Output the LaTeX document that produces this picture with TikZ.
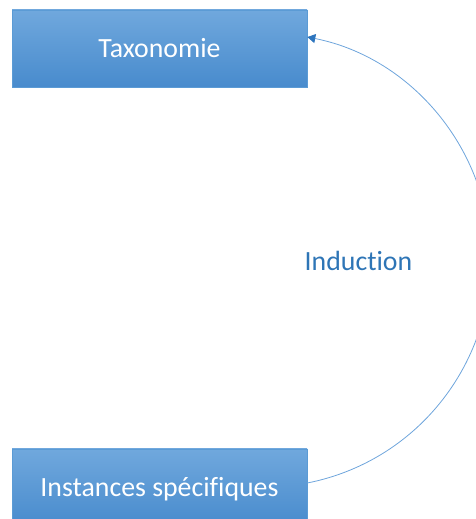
\documentclass[tikz,border=0pt]{standalone}
\usepackage{fontspec}
\setmainfont{Carlito}[Ligatures={NoCommon,NoContextual}]
\usetikzlibrary{arrows.meta,calc}
\definecolor{boxtop}{RGB}{112,168,221}
\definecolor{boxbot}{RGB}{72,139,205}
\definecolor{boxline}{RGB}{91,155,213}
\definecolor{linkblue}{RGB}{110,165,220}
\definecolor{tipblue}{RGB}{46,117,190}
\definecolor{labblue}{RGB}{46,117,182}
\begin{document}
\begin{tikzpicture}[x=1pt,y=1pt,
  boxnode/.style={rectangle, draw=boxline, line width=0.6pt,
    top color=boxtop, bottom color=boxbot,
    minimum width=295pt, minimum height=77pt, inner sep=0pt,
    text=white, font=\fontsize{27.8}{33}\selectfont,
    text height=17.9pt, text depth=0pt},
  link/.style={draw=linkblue, line width=0.8pt,
    -{Triangle[length=8pt,width=9pt,fill=tipblue,color=tipblue]}},
  lab/.style={text=labblue, font=\fontsize{27.8}{33}\selectfont, inner sep=0pt}]
\useasboundingbox (0,0) rectangle (476,519);
\node[boxnode] (tx) at (159.5,470.5) {Taxonomie};
\node[boxnode] (ib) at (159.5,31.5) {Instances spécifiques};
\coordinate (s) at ($(ib.east)+(0,4.5)$);
\coordinate (e) at ($(tx.east)+(0,11.5)$);
\draw[link] (s) arc[start angle=-78.84, end angle=78.84, radius=227.3];
\node[lab, anchor=base] (ind) at (358.5,248) {Induction};
\end{tikzpicture}
\end{document}
